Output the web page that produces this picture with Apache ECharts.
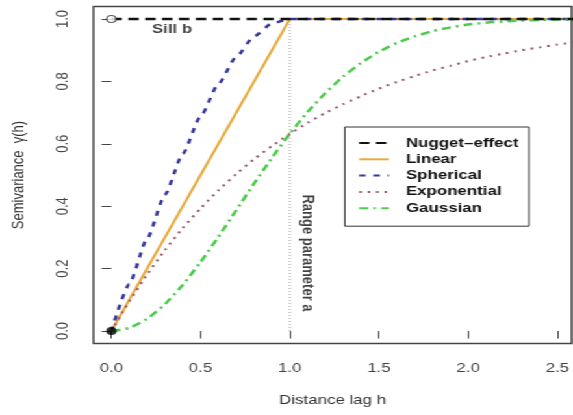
<!DOCTYPE html>
<html>
<head>
<meta charset="utf-8">
<script src="https://cdn.jsdelivr.net/npm/echarts@6/dist/echarts.min.js"></script>
<style>
  body { margin: 0; background: #fff; }
  /* the reference picture is stretched sideways, so the chart is too */
  #main { width: 441px; height: 415px; transform: scaleX(1.2993); transform-origin: 0 0; }
</style>
</head>
<body>
<div id="main"></div>
<script>
// lag values and semivariance
var lagH = [0, 0.1, 0.2, 0.3, 0.4, 0.5, 0.6, 0.7, 0.8, 0.9, 1.0, 1.1, 1.2, 1.3,
            1.4, 1.5, 1.6, 1.7, 1.8, 1.9, 2.0, 2.1, 2.2, 2.3, 2.4, 2.5, 2.6];
var spherical = [0, 0.15, 0.296, 0.437, 0.568, 0.688, 0.792, 0.879, 0.944, 0.986, 1, 1, 1, 1,
                 1, 1, 1, 1, 1, 1, 1, 1, 1, 1, 1, 1, 1];
var exponential = [0, 0.095, 0.181, 0.259, 0.33, 0.393, 0.451, 0.503, 0.551, 0.593, 0.632, 0.667, 0.699, 0.727,
                   0.753, 0.777, 0.798, 0.817, 0.835, 0.85, 0.865, 0.878, 0.889, 0.9, 0.909, 0.918, 0.926];
var gaussian = [0, 0.01, 0.039, 0.086, 0.148, 0.221, 0.302, 0.387, 0.473, 0.555, 0.632, 0.702, 0.763, 0.816,
                0.859, 0.895, 0.923, 0.944, 0.961, 0.973, 0.982, 0.988, 0.992, 0.995, 0.997, 0.998, 0.999];
var linearH = [0, 1, 2.6];
var linearY = [0, 1, 1];
var nuggetH = [0, 2.6];
var nuggetY = [1, 1];
var rangeA = 1;
var sillB = 1;
var xTicks = [0, 0.5, 1, 1.5, 2, 2.5];
var yTicks = [0, 0.2, 0.4, 0.6, 0.8, 1];
var modelNames = ['Nugget\u2013effect', 'Linear', 'Spherical', 'Exponential', 'Gaussian'];

function pairs(xs, ys) {
	var out = [];
	for (var i = 0; i < xs.length; i++) out.push([xs[i], ys[i]]);
	return out;
}

var myChart = echarts.init(document.getElementById('main'));

var option = {
	animation: false,
	backgroundColor: '#fff',
	grid: {
		left: 71.6, top: 6.5, bottom: 71.5, right: -1.8,
		show: true, borderColor: '#444', borderWidth: 1.5
	},
	xAxis: {
		type: 'value', min: -0.1, max: 2.58,
		name: 'Distance lag h', nameLocation: 'middle', nameGap: 50,
		nameTextStyle: { fontFamily: 'Liberation Sans', fontSize: 13, color: '#333' },
		axisLine: { show: false },
		splitLine: { show: false },
		axisTick: { customValues: xTicks, length: 7.5, lineStyle: { color: '#444', width: 1 } },
		axisLabel: {
			customValues: xTicks, margin: 18,
			fontFamily: 'Liberation Sans', fontSize: 13, color: '#444',
			formatter: function (v) { return v.toFixed(1); }
		}
	},
	yAxis: {
		type: 'value', min: -0.04, max: 1.04,
		name: 'Semivariance  \u03b3(h)', nameLocation: 'middle', nameGap: 51,
		nameTextStyle: { fontFamily: 'Liberation Sans', fontSize: 13, color: '#333' },
		axisLine: { show: false },
		splitLine: { show: false },
		axisTick: { customValues: yTicks, length: 7.5, lineStyle: { color: '#444', width: 1 } },
		axisLabel: {
			customValues: yTicks, rotate: 90, margin: 17,
			fontFamily: 'Liberation Sans', fontSize: 13, color: '#444',
			formatter: function (v) { return v.toFixed(1); }
		}
	},
	legend: {
		orient: 'vertical', left: 265.4, top: 127,
		padding: [9, 8, 11, 10],
		itemWidth: 23, itemHeight: 14, itemGap: 2.3,
		borderColor: '#333', borderWidth: 1, backgroundColor: '#fff',
		itemStyle: { opacity: 0 },
		data: modelNames,
		textStyle: { fontFamily: 'Liberation Sans', fontSize: 13, fontWeight: 'bold', color: '#111',
			lineHeight: 14, padding: [0, 0, 0, 8] }
	},
	series: [
		{
			name: modelNames[1], type: 'line', data: pairs(linearH, linearY),
			symbol: 'none', z: 3,
			lineStyle: { color: '#E8A93A', width: 2 }, itemStyle: { color: '#E8A93A' }
		},
		{
			name: modelNames[2], type: 'line', data: pairs(lagH, spherical),
			symbol: 'none', smooth: 0.2, smoothMonotone: 'x', z: 3,
			lineStyle: { color: '#35359E', width: 2.5, type: [5, 6] }, itemStyle: { color: '#35359E' }
		},
		{
			name: modelNames[3], type: 'line', data: pairs(lagH, exponential),
			symbol: 'none', smooth: 0.2, z: 3,
			lineStyle: { color: '#9A5A6C', width: 2, type: [2, 4.5] }, itemStyle: { color: '#9A5A6C' }
		},
		{
			name: modelNames[4], type: 'line', data: pairs(lagH, gaussian),
			symbol: 'none', smooth: 0.2, z: 3,
			lineStyle: { color: '#4CCB4C', width: 2.5, type: [7, 4, 2, 4] }, itemStyle: { color: '#4CCB4C' }
		},
		{
			name: modelNames[0], type: 'line', data: pairs(nuggetH, nuggetY),
			symbol: 'none', z: 4,
			lineStyle: { color: '#111', width: 2.5, type: [8, 5] }, itemStyle: { color: '#111' }
		},
		{
			// range line at h = a
			name: 'range', type: 'line', data: [[rangeA, 0], [rangeA, sillB]],
			symbol: 'none', z: 2, silent: true,
			lineStyle: { color: '#999', width: 1, type: [1, 2] }
		},
		{
			// nugget points
			name: 'nuggetPts', type: 'scatter', z: 5, zlevel: 1, silent: true,
			data: [
				{ value: [0, 0], symbol: 'circle', symbolSize: 8, itemStyle: { color: '#000' } },
				{ value: [0, sillB], symbol: 'circle', symbolSize: 7,
					itemStyle: { color: '#fff', borderColor: '#333', borderWidth: 1.2 } }
			]
		},
		{
			name: 'notes', type: 'scatter', z: 6, silent: true,
			symbolSize: 1, itemStyle: { color: 'rgba(0,0,0,0)' },
			label: { show: true, position: 'inside', fontFamily: 'Liberation Sans', fontSize: 13,
				fontWeight: 'bold', color: '#111' },
			data: [
				{ value: [0.34, 0.965], label: { formatter: 'Sill b' } },
				{ value: [1.1, 0.25], label: { formatter: 'Range parameter a', rotate: -90 } }
			]
		}
	]
};

myChart.setOption(option);
</script>
</body>
</html>
